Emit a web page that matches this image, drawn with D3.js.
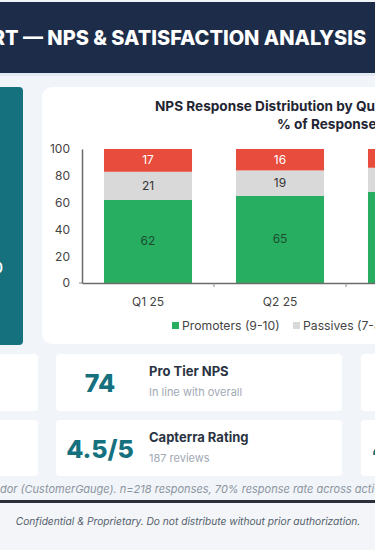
<!DOCTYPE html>
<html>
<head>
<meta charset="utf-8">
<script src="https://cdn.jsdelivr.net/npm/d3@7"></script>
<style>
  html, body { margin: 0; padding: 0; background: #f1f4f8; overflow: hidden; }
  svg { display: block; font-family: Inter, "Noto Sans", sans-serif; }
</style>
</head>
<body>
<div id="chart"></div>
<script>
// chart data
const quarters = ["Q1 25", "Q2 25", "Q3 25"];
const promoters = [62, 65, 68];
const passives = [21, 19, 18];
const detractors = [17, 16, 14];
const yTicks = [0, 20, 40, 60, 80, 100];
const seriesNames = ["Promoters (9-10)", "Passives (7-8)", "Detractors (0-6)"];

// kpi cards
const kpiValues = ["74", "4.5/5"];
const kpiTitles = ["Pro Tier NPS", "Capterra Rating"];
const kpiNotes = ["In line with overall", "187 reviews"];

const titleText = "CUSTOMER EXPERIENCE REPORT — NPS & SATISFACTION ANALYSIS";
const sourceText = "Source: Third-party survey vendor (CustomerGauge). n=218 responses, 70% response rate across active customers.";
const footerText = "Confidential & Proprietary. Do not distribute without prior authorization.";

width = 375;
height = 550;

svg = d3.select('#chart')
	.append('svg')
	.attr('width', width)
	.attr('height', height);

svg.append('rect').attr('width', width).attr('height', height).attr('fill', '#f1f4f8');

// header band
svg.append('rect').attr('x', 0).attr('y', 2).attr('width', width).attr('height', 71).attr('fill', '#1d2c48');
svg.append('rect').attr('x', 0).attr('y', 73).attr('width', width).attr('height', 3).attr('fill', '#e3eaf2');
const title = svg.append('text')
	.attr('x', 0).attr('y', 45)
	.attr('fill', '#ffffff')
	.attr('font-size', 20)
	.attr('font-weight', 800)
	.text(titleText);
// place the dash near x=23, like the cropped view
const dashOff = title.node().getSubStringLength(0, titleText.indexOf('—'));
title.attr('x', 23 - dashOff);

// teal side panel (cut off at left)
svg.append('rect').attr('x', -20).attr('y', 87).attr('width', 43).attr('height', 258).attr('rx', 4).attr('fill', '#16717f');
svg.append('text').attr('x', 3).attr('y', 273).attr('text-anchor', 'end')
	.attr('fill', '#ffffff').attr('font-size', 14).attr('font-weight', 600).text('0');

// chart card
svg.append('rect').attr('x', 42).attr('y', 87).attr('width', 600).attr('height', 257)
	.attr('rx', 10).attr('fill', '#ffffff');

svg.append('text').attr('x', 155).attr('y', 111)
	.attr('fill', '#1f2533').attr('font-size', 13.6).attr('font-weight', 700)
	.text('NPS Response Distribution by Quarter');
svg.append('text').attr('x', 277).attr('y', 129)
	.attr('fill', '#1f2533').attr('font-size', 13.6).attr('font-weight', 700)
	.text('% of Responses');

const table = quarters.map((q, i) => ({
	quarter: q, promoters: promoters[i], passives: passives[i], detractors: detractors[i]
}));
const keys = ['promoters', 'passives', 'detractors'];
const colors = ['#27ae60', '#d9d9d9', '#e74c3c'];
const labelColors = ['#1c4d30', '#333333', '#ffffff'];

const stacked = d3.stack().keys(keys)(table);

x = d3.scaleBand()
	.domain(quarters)
	.range([82, 82 + 132 * quarters.length])
	.paddingInner(0.333)
	.paddingOuter(0.1665);

y = d3.scaleLinear()
	.domain([0, 100])
	.range([283, 149]);

const plot = svg.append('g');

stacked.forEach(function(layer, li) {
	plot.selectAll('.bar-' + li)
		.data(layer)
		.enter()
		.append('rect')
		.attr('x', (d) => x(d.data.quarter))
		.attr('y', (d) => y(d[1]))
		.attr('width', x.bandwidth())
		.attr('height', (d) => y(d[0]) - y(d[1]))
		.attr('fill', colors[li]);
	plot.selectAll('.lbl-' + li)
		.data(layer)
		.enter()
		.append('text')
		.attr('x', (d) => x(d.data.quarter) + x.bandwidth() / 2)
		.attr('y', (d) => (y(d[0]) + y(d[1])) / 2 + 4)
		.attr('text-anchor', 'middle')
		.attr('fill', labelColors[li])
		.attr('font-size', 12)
		.text((d) => d[1] - d[0]);
});

// y axis
const yAxis = svg.append('g')
	.attr('transform', 'translate(82,0)')
	.call(d3.axisLeft(y).tickValues(yTicks).tickSize(0).tickPadding(12));
yAxis.select('.domain').attr('stroke', '#6b6b6b').attr('stroke-width', 1.5);
yAxis.selectAll('text').attr('fill', '#444').attr('font-size', 12).attr('font-family', 'Inter, sans-serif');

// x axis
const xAxis = svg.append('g')
	.attr('transform', 'translate(0,283)')
	.call(d3.axisBottom(x).tickSize(0).tickPadding(14));
xAxis.select('.domain').attr('stroke', '#6b6b6b').attr('stroke-width', 1.5);
xAxis.selectAll('text').attr('fill', '#444').attr('font-size', 12).attr('font-family', 'Inter, sans-serif');
// small tick marks between categories
xAxis.selectAll('.sep')
	.data(quarters)
	.enter()
	.append('line')
	.attr('x1', (d) => x(d) + x.step() * (1 - 0.1665) )
	.attr('x2', (d) => x(d) + x.step() * (1 - 0.1665))
	.attr('y1', 0).attr('y2', 4)
	.attr('stroke', '#888');
svg.append('line').attr('x1', 79).attr('x2', 82).attr('y1', 283).attr('y2', 283).attr('stroke', '#888');

// legend
const legX = [172, 293, 420];
seriesNames.forEach(function(name, i) {
	svg.append('rect').attr('x', legX[i]).attr('y', 322).attr('width', 7).attr('height', 7).attr('fill', colors[i]);
	svg.append('text').attr('x', legX[i] + 10).attr('y', 330)
		.attr('fill', '#444').attr('font-size', 12.2).text(name);
});

// KPI cards
const rowsY = [354, 420];
const rowH = [57, 56];
rowsY.forEach(function(ry, i) {
	svg.append('rect').attr('x', -20).attr('y', ry).attr('width', 58).attr('height', rowH[i]).attr('rx', 4).attr('fill', '#ffffff');
	svg.append('rect').attr('x', 56).attr('y', ry).attr('width', 286).attr('height', rowH[i]).attr('rx', 4).attr('fill', '#ffffff');
	svg.append('rect').attr('x', 361).attr('y', ry).attr('width', 60).attr('height', rowH[i]).attr('rx', 4).attr('fill', '#ffffff');
	svg.append('text').attr('x', 100).attr('y', ry + 38).attr('text-anchor', 'middle')
		.attr('fill', '#16717f').attr('font-size', 25).attr('font-weight', 800).text(kpiValues[i]);
	svg.append('text').attr('x', 149).attr('y', ry + 22)
		.attr('fill', '#2a3342').attr('font-size', 13).attr('font-weight', 700).text(kpiTitles[i]);
	svg.append('text').attr('x', 149).attr('y', ry + 42)
		.attr('fill', '#a1a9b4').attr('font-size', 11).text(kpiNotes[i]);
});
svg.append('text').attr('x', 372).attr('y', 458)
	.attr('fill', '#16717f').attr('font-size', 25).attr('font-weight', 800).text('4');

// source note, shifted so that "dor" starts at left edge
const src = svg.append('text').attr('x', 0).attr('y', 493)
	.attr('fill', '#8b95a1').attr('font-size', 11).attr('font-style', 'italic').text(sourceText);
const cut = src.node().getSubStringLength(0, sourceText.indexOf('dor ('));
src.attr('x', -cut);

// footer
svg.append('rect').attr('x', 0).attr('y', 500).attr('width', width).attr('height', 3).attr('fill', '#2a2f3a');
svg.append('rect').attr('x', 0).attr('y', 503).attr('width', width).attr('height', 47).attr('fill', '#f3f5f8');
svg.append('text').attr('x', 188).attr('y', 525).attr('text-anchor', 'middle')
	.attr('fill', '#555f6c').attr('font-size', 10.2).attr('font-style', 'italic').text(footerText);
</script>
</body>
</html>
